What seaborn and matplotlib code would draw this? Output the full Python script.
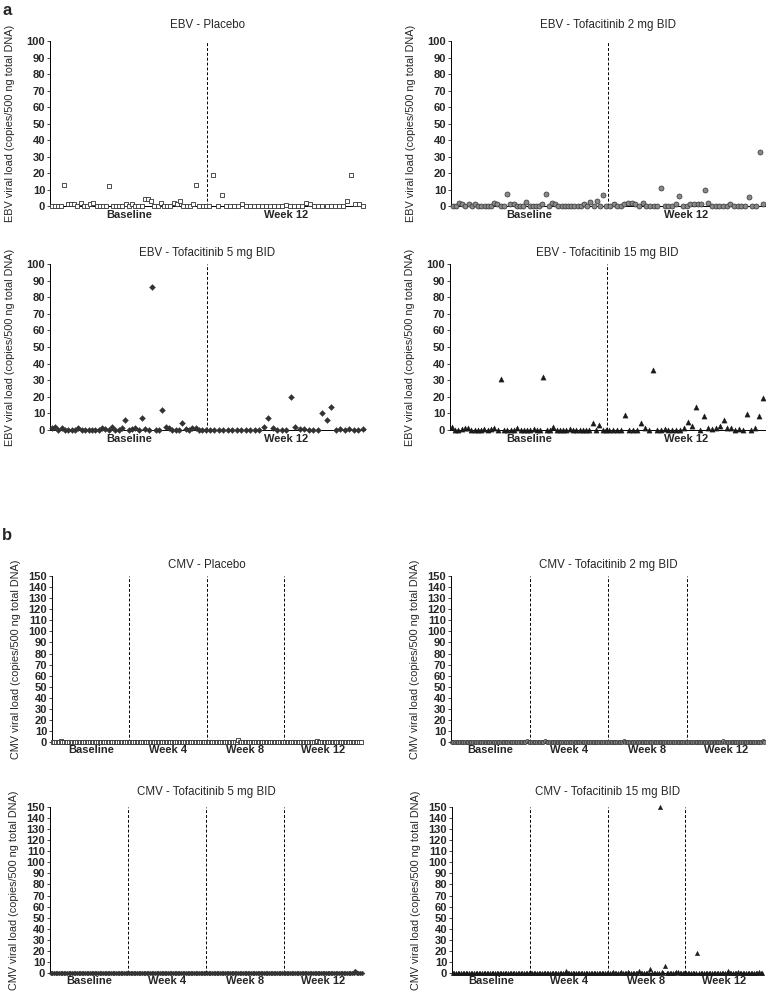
import numpy as np
import pandas as pd
import seaborn as sns
import matplotlib.pyplot as plt

sns.set_style('ticks')
plt.rcParams['font.family'] = ['Liberation Sans', 'DejaVu Sans']

# ---- EBV viral load per patient (copies/500 ng total DNA) ----
ebv_labels = ['Baseline', 'Week 12']

ebv_pbo_bl = [0, 0, 0, 0, 12.5, 1, 1, 1, 0, 2, 0, 0, 1, 2, 0, 0, 0, 0, 12, 0, 0, 0, 0, 1, 0,
              1, 0, 0, 0, 4, 4, 3, 0, 0, 2, 0, 0, 0, 2, 1, 3, 0, 0, 0, 1, 13, 0, 0, 0]
ebv_pbo_w12 = [0, 19, 0, 6.5, 0, 0, 0, 0, 1, 0, 0, 0, 0, 0, 0, 0, 0, 0, 0, 0.5,
               0, 0, 0, 0, 2, 1, 0, 0, 0, 0, 0, 0, 0, 0, 3, 19, 1, 1, 0]

ebv_2mg_bl = [0, 0, 2, 1, 0, 1, 0, 1, 0, 0, 0, 0, 0, 2, 1, 0, 0, 7, 1, 1, 0, 0, 0, 2.5, 0,
              0, 0, 0, 1, 7, 0, 2, 1, 0, 0, 0, 0, 0, 0, 0, 0, 1, 0, 2.5, 0, 3, 0, 6.5, 0]
ebv_2mg_w12 = [0, 1, 0, 0, 1, 2, 2, 1, 0, 2, 0, 0, 0, 0, 11, 0, 0, 0, 1, 6, 0, 0,
               1, 1, 1.5, 1, 10, 2, 0, 0, 0, 0, 0, 1, 0, 0, 0, 0, 5.5, 0, 0, 33, 1]

ebv_5mg_bl = [1, 2, 0, 1, 0, 0, 0, 0, 1, 0, 0, 0, 0, 0, 0, 1, 0.5, 0, 2, 0, 0, 1, 6, 0,
              0.5, 1, 0, 7, 0.5, 0, 86, 0, 0, 12, 2, 1, 0, 0, 0, 4, 0.5, 0, 1, 1.5, 0, 0, 0]
ebv_5mg_w12 = [0, 0, 0, 0, 0, 0, 0, 0, 0, 0, 0, 0, 2, 7, 1.5, 0, 0, 0, 20, 2, 0.5, 0.5,
               0, 0, 0, 10, 6, 14, 0, 0.5, 0, 0.5, 0, 0, 0.5]

ebv_15mg_bl = [2, 0, 0, 0.5, 1, 1.5, 0, 0, 0, 0, 0.5, 0, 0.5, 1.5, 0, 31, 0, 0, 0, 0, 1, 0, 0, 0,
               0, 0.5, 0, 0, 32, 0, 0, 2, 0, 0, 0, 0, 0.5, 0, 0, 0, 0, 0, 0, 4, 0, 3, 0, 0]
ebv_15mg_w12 = [0, 0, 0, 0, 9, 0, 0, 0, 4, 1, 0, 36, 0, 0, 0.5, 0, 0, 0, 0, 1,
                5, 2.5, 14, 0, 8.5, 1, 0.5, 1, 2.5, 6, 1, 1, 0, 0.5, 0, 9.5, 0, 1.5, 8.5, 19]

# ---- CMV viral load per patient ----
cmv_labels = ['Baseline', 'Week 4', 'Week 8', 'Week 12']

cmv_pbo_bl = [0, 0, 0, 0, 0, 0.5, 0, 0, 0, 0, 0, 0, 0, 0, 0, 0, 0, 0, 0, 0, 0, 0, 0, 0,
              0, 0, 0, 0, 0, 0, 0, 0, 0, 0, 0, 0, 0, 0, 0, 0, 0, 0, 0, 0, 0, 0, 0, 0]
cmv_pbo_w4 = [0, 0, 0, 0, 0, 0, 0, 0, 0, 0, 0, 0, 0, 0, 0, 0, 0, 0, 0, 0, 0, 0, 0, 0,
              0, 0, 0, 0, 0, 0, 0, 0, 0, 0, 0, 0, 0, 0, 0, 0, 0, 0, 0, 0, 0, 0, 0, 0]
cmv_pbo_w8 = [0, 0, 0, 0, 0, 0, 0, 0, 0, 0, 0, 0, 0, 0, 0, 0, 0, 0, 0, 1.5, 0, 0, 0, 0,
              0, 0, 0, 0, 0, 0, 0, 0, 0, 0, 0, 0, 0, 0, 0, 0, 0, 0, 0, 0, 0, 0, 0, 0]
cmv_pbo_w12 = [0, 0, 0, 0, 0, 0, 0, 0, 0, 0, 0, 0, 0, 0, 0, 0, 0, 0, 0, 0, 0.5, 0, 0, 0,
               0, 0, 0, 0, 0, 0, 0, 0, 0, 0, 0, 0, 0, 0, 0, 0, 0, 0, 0, 0, 0, 0, 0, 0]

cmv_2mg_bl = [0, 0, 0, 0, 0, 0, 0, 0, 0, 0, 0, 0, 0, 0, 0, 0, 0, 0, 0, 0, 0, 0, 0, 0,
              0, 0, 0, 0, 0, 0, 0, 0, 0, 0, 0, 0, 0, 0, 0, 0, 0, 0, 0, 0, 0, 0, 0.5, 0]
cmv_2mg_w4 = [0, 0, 0, 0, 0, 0, 0, 0, 0, 0.5, 0, 0, 0, 0, 0, 0, 0, 0, 0, 0, 0, 0, 0, 0,
              0, 0, 0, 0, 0, 0, 0, 0, 0, 0, 0, 0, 0, 0, 0, 0, 0, 0, 0, 0, 0, 0, 0, 0]
cmv_2mg_w8 = [0, 0, 0, 0, 0, 0, 0, 0, 0, 0.5, 0, 0, 0, 0, 0, 0, 0, 0, 0, 0, 0, 0, 0, 0,
              0, 0, 0, 0, 0, 0, 0, 0.3, 0, 0, 0, 0, 0, 0, 0, 0, 0, 0, 0, 0, 0, 0, 0, 0]
cmv_2mg_w12 = [0, 0, 0, 0, 0, 0, 0, 0, 0, 0, 0, 0, 0, 0, 0, 0, 0, 0, 0, 0, 0, 0, 0.5, 0,
               0, 0, 0, 0, 0, 0, 0, 0, 0, 0, 0, 0, 0, 0, 0, 0, 0, 0, 0, 0, 0, 0, 1, 0]

cmv_5mg_bl = [0, 0, 0, 0, 0, 0, 0, 0, 0, 0, 0, 0, 0, 0, 0, 0, 0, 0, 0, 0, 0, 0, 0, 0,
              0, 0, 0, 0, 0, 0, 0, 0, 0, 0, 0, 0, 0, 0, 0, 0, 0, 0, 0, 0, 0, 0, 0, 0]
cmv_5mg_w4 = [0, 0, 0, 0, 0, 0, 0, 0, 0, 0, 0, 0, 0, 0, 0, 0, 0, 0, 0, 0, 0, 0, 0, 0,
              0, 0, 0, 0, 0, 0, 0, 0, 0, 0, 0, 0, 0, 0, 0, 0, 0, 0, 0, 0, 0, 0, 0, 0]
cmv_5mg_w8 = [0, 0, 0, 0, 0, 0, 0, 0, 0, 0, 0, 0, 0, 0, 0, 0, 0, 0, 0, 0, 0, 0, 0, 0,
              0, 0, 0, 0, 0, 0, 0, 0, 0, 0, 0, 0, 0, 0, 0, 0, 0, 0, 0, 0, 0, 0, 0, 0]
cmv_5mg_w12 = [0, 0, 0, 0, 0, 0, 0, 0, 0, 0, 0, 0, 0, 0, 0, 0, 0, 0, 0, 0, 0, 0, 0, 0,
               0, 0, 0, 0, 0, 0, 0, 0, 0, 0, 0, 0, 0, 0, 0, 0, 0, 0, 0, 2, 0, 0, 0, 0]

cmv_15mg_bl = [0, 0, 0, 0, 0, 0, 0, 0, 0, 0, 0, 0, 0, 0, 0, 0, 0, 0, 0, 0, 0, 0, 0, 0,
               0, 0, 0, 0, 0, 0, 0, 0, 0, 0, 0, 0, 0, 0, 0, 0, 0, 0, 0, 0, 0, 0, 0, 0]
cmv_15mg_w4 = [0, 0, 0, 0, 0, 0, 0, 0, 0, 0, 0, 0, 0, 0, 0, 0, 0, 0, 0, 0, 0, 0, 2, 0,
               0, 0, 0, 0, 0, 0, 0, 0, 0, 0, 0, 0, 0, 0, 0, 0, 0, 0, 0, 0, 0, 0, 0, 0]
cmv_15mg_w8 = [0, 0, 0, 1, 0, 0, 0, 0, 1, 0, 0, 0, 0.5, 0, 0, 0, 0, 0, 0, 2, 0, 0, 0, 0,
               0, 0, 4, 0, 0, 0, 0, 0, 150, 1, 0, 6, 0, 0, 0, 0, 0, 0, 1, 1, 0, 0, 0, 0]
cmv_15mg_w12 = [0, 0, 0, 0, 0, 0, 0, 18, 0, 0, 0, 0, 0, 0, 0, 0, 0, 0, 0, 0, 0, 0, 0, 0,
                0, 0, 2, 0, 0, 0, 0, 0, 1, 0, 0, 0, 0, 0, 0, 0, 0, 0, 0, 0, 0, 1, 0, 0]

# marker style per treatment arm
pbo_style = dict(marker='s', color='white', edgecolor='#333333', linewidth=0.6)
mg2_style = dict(marker='o', color='#8a8a8a', edgecolor='#333333', linewidth=0.5)
mg5_style = dict(marker='D', color='#333333', edgecolor='#333333', linewidth=0.3)
mg15_style = dict(marker='^', color='#1a1a1a', edgecolor='#1a1a1a', linewidth=0.3)

fig = plt.figure(figsize=(7.66, 9.92), dpi=100)


def draw_panel(rect, title, labels, series, ymax, style, size, title_pad, ylabel, label_x):
    ax = fig.add_axes(rect)
    frames = []
    for k, vals in enumerate(series):
        n = len(vals)
        frames.append(pd.DataFrame({'pos': k + (np.arange(n) + 0.5) / n, 'load': vals}))
    df = pd.concat(frames, ignore_index=True)
    sns.scatterplot(data=df, x='pos', y='load', ax=ax, s=size, clip_on=False,
                    zorder=4, legend=False, **style)
    for k in range(1, len(series)):
        ax.plot([k, k], [0, ymax], ls=(0, (3, 2)), color='black', lw=0.7, zorder=2)
    ax.set_xlim(0, len(series))
    ax.set_ylim(0, ymax)
    ax.set_xticks(np.arange(len(series)) + 0.5)
    ax.set_xticklabels(labels, fontsize=8, fontweight='bold')
    ax.set_yticks(range(0, ymax + 1, 10))
    ax.set_yticklabels([str(v) for v in range(0, ymax + 1, 10)], fontsize=8, fontweight='bold')
    ax.tick_params(axis='x', length=0, pad=2.5)
    ax.tick_params(axis='y', length=2.5, width=0.6, pad=1)
    for side in ['top', 'right']:
        ax.spines[side].set_visible(False)
    for side in ['left', 'bottom']:
        ax.spines[side].set_linewidth(0.7)
        ax.spines[side].set_color('black')
    ax.set_xlabel('')
    ax.set_ylabel(ylabel, fontsize=7.8)
    ax.yaxis.set_label_coords(label_x, 0.5)
    ax.set_title(title, fontsize=8.3, pad=title_pad)
    return ax


ebv_y = 'EBV viral load (copies/500 ng total DNA)'
cmv_y = 'CMV viral load (copies/500 ng total DNA)'

draw_panel([0.0653, 0.7923, 0.411, 0.1663], 'EBV - Placebo', ebv_labels,
           [ebv_pbo_bl, ebv_pbo_w12], 100, pbo_style, 12, 9.5, ebv_y, -0.11)
draw_panel([0.5888, 0.7923, 0.410, 0.1663], 'EBV - Tofacitinib 2 mg BID', ebv_labels,
           [ebv_2mg_bl, ebv_2mg_w12], 100, mg2_style, 13, 9.5, ebv_y, -0.11)
draw_panel([0.0653, 0.5665, 0.411, 0.1673], 'EBV - Tofacitinib 5 mg BID', ebv_labels,
           [ebv_5mg_bl, ebv_5mg_w12], 100, mg5_style, 9, 6, ebv_y, -0.11)
draw_panel([0.5875, 0.5665, 0.411, 0.1673], 'EBV - Tofacitinib 15 mg BID', ebv_labels,
           [ebv_15mg_bl, ebv_15mg_w12], 100, mg15_style, 14, 6, ebv_y, -0.11)

draw_panel([0.0679, 0.252, 0.404, 0.1673], 'CMV - Placebo', cmv_labels,
           [cmv_pbo_bl, cmv_pbo_w4, cmv_pbo_w8, cmv_pbo_w12], 150, pbo_style, 7, 5.5, cmv_y, -0.1)
draw_panel([0.5888, 0.252, 0.410, 0.1673], 'CMV - Tofacitinib 2 mg BID', cmv_labels,
           [cmv_2mg_bl, cmv_2mg_w4, cmv_2mg_w8, cmv_2mg_w12], 150, mg2_style, 8, 5.5, cmv_y, -0.1)
draw_panel([0.0653, 0.0192, 0.408, 0.1673], 'CMV - Tofacitinib 5 mg BID', cmv_labels,
           [cmv_5mg_bl, cmv_5mg_w4, cmv_5mg_w8, cmv_5mg_w12], 150, mg5_style, 6, 8.5, cmv_y, -0.1)
draw_panel([0.5901, 0.0192, 0.406, 0.1673], 'CMV - Tofacitinib 15 mg BID', cmv_labels,
           [cmv_15mg_bl, cmv_15mg_w4, cmv_15mg_w8, cmv_15mg_w12], 150, mg15_style, 10, 8.5, cmv_y, -0.1)

fig.text(0.003, 0.997, 'a', fontsize=12, fontweight='bold', va='top')
fig.text(0.003, 0.468, 'b', fontsize=12, fontweight='bold', va='top')

fig.savefig('out.png', dpi=100)
